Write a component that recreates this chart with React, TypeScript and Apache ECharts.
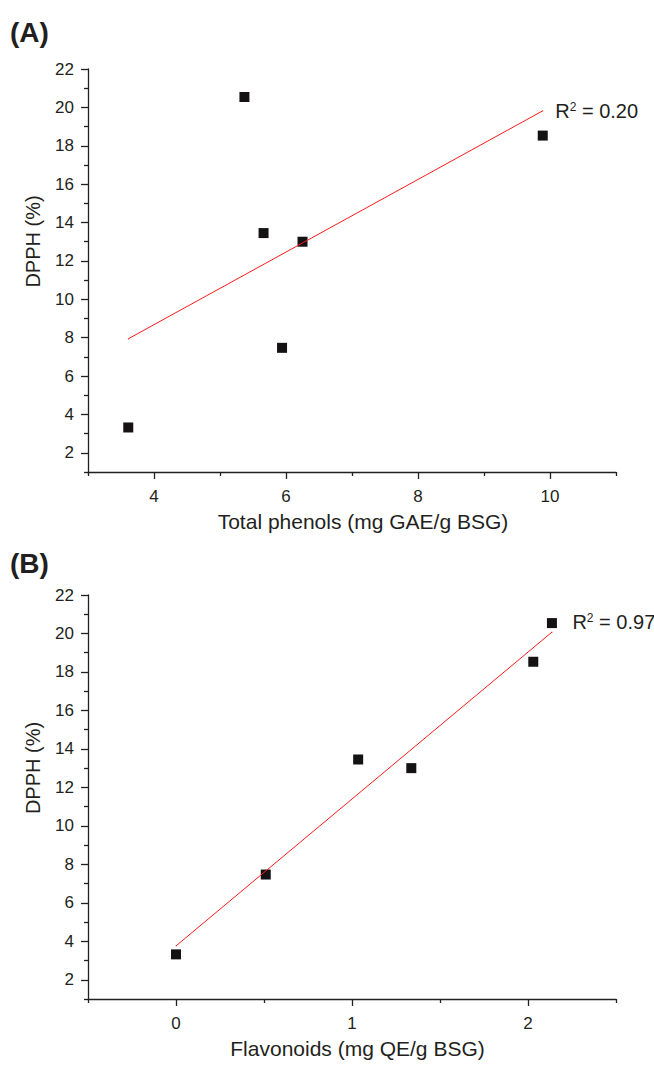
import React, { useEffect, useRef } from 'react';
import * as echarts from 'echarts';

// DPPH scavenging (%) for the six samples
const dpph = [3.32, 7.47, 13.45, 13.0, 18.53, 20.54];
// Total phenols (mg GAE/g BSG) for the same samples
const totalPhenols = [3.61, 5.94, 5.66, 6.25, 9.89, 5.37];
// Flavonoids (mg QE/g BSG) for the same samples
const flavonoids = [0, 0.51, 1.035, 1.337, 2.03, 2.136];

// Linear fit end points
const fitA = [[3.61, 7.94], [9.89, 19.82]];
const fitB = [[0, 3.76], [2.136, 20.07]];
const r2A = '0.20';
const r2B = '0.97';

// Tick values
const yMajor = [2, 4, 6, 8, 10, 12, 14, 16, 18, 20, 22];
const yMinor = [1, 3, 5, 7, 9, 11, 13, 15, 17, 19, 21];
const xMajorA = [4, 6, 8, 10];
const xMinorA = [3, 5, 7, 9, 11];
const xMajorB = [0, 1, 2];
const xMinorB = [-0.5, 0.5, 1.5, 2.5];

const FONT = "'Liberation Sans', Arial, Helvetica, sans-serif";
const INK = '#231f20';
const MARK = '#141213';
const RED = '#ff1a1a';

function xAxesFor(gridIndex: number, min: number, max: number, interval: number, major: number[], minor: number[], name: string, pad: number) {
  return [
    {
      type: 'value', gridIndex, position: 'bottom', min, max, interval,
      name, nameLocation: 'middle', nameGap: 39,
      nameTextStyle: { fontSize: 21, color: INK, fontFamily: FONT, padding: [0, 0, 0, pad] },
      axisLine: { show: true, onZero: false, lineStyle: { color: INK, width: 1.3 } },
      axisTick: { show: true, customValues: major, length: 7, lineStyle: { color: INK, width: 1.3 } },
      axisLabel: { show: true, customValues: major, margin: 16, fontSize: 17, color: INK, fontFamily: FONT },
      splitLine: { show: false },
    },
    {
      type: 'value', gridIndex, position: 'bottom', min, max, interval,
      axisLine: { show: false, onZero: false },
      axisTick: { show: true, customValues: minor, length: 4, lineStyle: { color: INK, width: 1.3 } },
      axisLabel: { show: false },
      splitLine: { show: false },
    },
  ];
}

function yAxesFor(gridIndex: number) {
  return [
    {
      type: 'value', gridIndex, position: 'left', min: 1, max: 22, interval: 1,
      name: 'DPPH (%)', nameLocation: 'middle', nameGap: 45, nameRotate: 90,
      nameTextStyle: { fontSize: 20, color: INK, fontFamily: FONT, padding: [0, 0, 0, 58] },
      axisLine: { show: true, onZero: false, lineStyle: { color: INK, width: 1.3 } },
      axisTick: { show: true, customValues: yMajor, length: 7, lineStyle: { color: INK, width: 1.3 } },
      axisLabel: { show: true, customValues: yMajor, margin: 14, fontSize: 17, color: INK, fontFamily: FONT },
      splitLine: { show: false },
    },
    {
      type: 'value', gridIndex, position: 'left', min: 1, max: 22, interval: 1,
      axisLine: { show: false, onZero: false },
      axisTick: { show: true, customValues: yMinor, length: 4, lineStyle: { color: INK, width: 1.3 } },
      axisLabel: { show: false },
      splitLine: { show: false },
    },
  ];
}

function fitSeries(fit: number[][], xi: number, yi: number, r2: string, distance: number, offset: number[]) {
  return {
    type: 'line', xAxisIndex: xi, yAxisIndex: yi, z: 3,
    symbol: 'circle', symbolSize: 1, showSymbol: true,
    lineStyle: { color: RED, width: 1 },
    itemStyle: { color: RED },
    label: { show: false },
    data: fit.map((p, i) =>
      i === fit.length - 1
        ? {
            value: p,
            label: {
              show: true, position: 'right', distance, offset,
              formatter: 'R{sup|2} = ' + r2,
              fontSize: 20, color: INK, fontFamily: FONT,
              rich: { sup: { fontSize: 12, verticalAlign: 'top', color: INK, fontFamily: FONT } },
            },
          }
        : p
    ),
  };
}

export default function App() {
  const ref = useRef<HTMLDivElement>(null);
  useEffect(() => {
    if (!ref.current) return;
    const chart = echarts.init(ref.current, undefined, { renderer: 'svg' });
    chart.setOption({
      animation: false,
      backgroundColor: '#ffffff',
      grid: [
        { left: 88, top: 69, width: 528, height: 403 },
        { left: 88, top: 595, width: 528, height: 404 },
      ],
      xAxis: [
        ...xAxesFor(0, 3, 11, 1, xMajorA, xMinorA, 'Total phenols (mg GAE/g BSG)', 22),
        ...xAxesFor(1, -0.5, 2.5, 0.5, xMajorB, xMinorB, 'Flavonoids (mg QE/g BSG)', 11),
      ],
      yAxis: [...yAxesFor(0), ...yAxesFor(1)],
      graphic: [
        { type: 'text', left: 10, top: 18, style: { text: '(A)', fontSize: 28, fontWeight: 'bold', fontFamily: FONT, fill: INK } },
        { type: 'text', left: 10, top: 549, style: { text: '(B)', fontSize: 28, fontWeight: 'bold', fontFamily: FONT, fill: INK } },
      ],
      series: [
        {
          type: 'scatter', xAxisIndex: 0, yAxisIndex: 0, z: 2,
          symbol: 'rect', symbolSize: 10,
          itemStyle: { color: MARK, opacity: 1 },
          data: totalPhenols.map((x, i) => [x, dpph[i]]),
        },
        fitSeries(fitA, 0, 0, r2A, 12, [0, 0]),
        {
          type: 'scatter', xAxisIndex: 2, yAxisIndex: 2, z: 2,
          symbol: 'rect', symbolSize: 10,
          itemStyle: { color: MARK, opacity: 1 },
          data: flavonoids.map((x, i) => [x, dpph[i]]),
        },
        fitSeries(fitB, 2, 2, r2B, 20, [0, -10]),
      ],
    });
    return () => chart.dispose();
  }, []);
  return <div ref={ref} style={{ position: 'absolute', left: 0, top: 0, width: 654, height: 1065 }} />;
}
